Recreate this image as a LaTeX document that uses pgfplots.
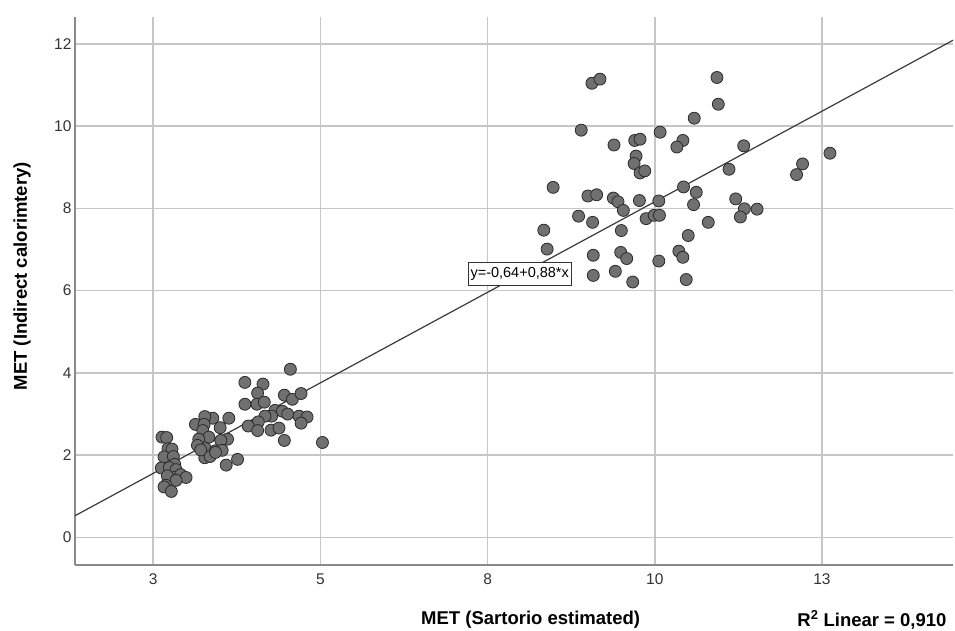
\documentclass[border=0pt]{standalone}
\usepackage{fontspec}
\setmainfont{Liberation Sans}
\usepackage{pgfplots}
\usepackage{pgfplotstable}
\pgfplotsset{compat=1.18}
\definecolor{gridgrey}{HTML}{C6C6C6}
\definecolor{axisgrey}{HTML}{8A8A8A}
\definecolor{dotfill}{HTML}{707070}
\definecolor{dotedge}{HTML}{2A2A2A}
\definecolor{fitline}{HTML}{3A3A3A}

% MET estimated (x) vs MET measured (y)
\pgfplotstableread{
x y
9.06 11.04
9.18 11.14
10.93 11.18
10.95 10.53
10.59 10.19
8.90 9.90
10.08 9.85
9.39 9.54
9.70 9.65
9.78 9.68
10.42 9.65
10.33 9.49
9.72 9.27
9.69 9.09
9.78 8.86
9.85 8.91
11.33 9.52
12.62 9.34
12.21 9.08
12.12 8.82
11.11 8.95
8.48 8.51
9.00 8.30
9.13 8.33
9.38 8.25
9.45 8.16
9.53 7.95
9.77 8.19
10.06 8.18
10.43 8.52
10.62 8.39
10.58 8.09
11.21 8.23
11.34 7.99
11.53 7.98
11.28 7.79
8.86 7.81
9.07 7.66
9.87 7.75
9.99 7.83
10.07 7.83
10.80 7.66
8.34 7.47
9.50 7.46
10.50 7.34
8.39 7.01
9.08 6.86
9.49 6.93
9.58 6.78
10.36 6.96
10.42 6.81
10.06 6.72
9.08 6.37
9.41 6.47
9.67 6.21
10.47 6.27
4.55 4.09
3.87 3.77
4.14 3.73
4.06 3.51
4.46 3.46
4.58 3.36
4.71 3.50
3.87 3.24
4.05 3.24
4.16 3.29
4.32 3.09
4.43 3.07
4.51 3.00
4.68 2.95
4.80 2.93
4.71 2.78
4.27 2.95
4.17 2.95
4.07 2.81
3.92 2.71
4.06 2.60
4.26 2.61
4.38 2.66
4.46 2.36
5.03 2.31
3.63 2.90
3.39 2.90
3.27 2.94
3.13 2.75
3.26 2.75
3.24 2.60
3.50 2.67
3.61 2.39
3.51 2.36
3.33 2.44
3.18 2.39
3.16 2.24
3.28 2.16
3.43 2.11
3.53 2.12
3.27 1.94
3.35 1.97
3.43 2.07
3.59 1.76
3.76 1.90
3.21 2.13
2.63 2.44
2.70 2.43
2.72 2.16
2.78 2.15
2.66 1.96
2.80 1.97
2.82 1.78
2.62 1.69
2.74 1.70
2.84 1.65
2.83 1.47
2.71 1.50
2.91 1.53
2.99 1.46
2.84 1.39
2.69 1.27
2.66 1.23
2.77 1.12
}\metdata

\begin{document}
\begin{tikzpicture}
\begin{axis}[
  at={(75bp,66bp)}, anchor=south west,
  scale only axis, width=878bp, height=548bp,
  xmin=1.329, xmax=14.46, ymin=-0.667, ymax=12.65,
  xtick={2.5,5,7.5,10,12.5}, xticklabels={3,5,8,10,13},
  ytick={0,2,4,6,8,10,12},
  grid=major, grid style={gridgrey, line width=1.6bp},
  axis x line*=bottom, axis y line*=left,
  axis line style={axisgrey, line width=1.6bp, -},
  major tick length=0pt,
  tick label style={font=\fontsize{15.5bp}{18bp}\selectfont, text=black!80},
  /pgf/number format/assume math mode=true,
  xticklabel style={yshift=-5bp},
  xlabel={MET (Sartorio estimated)}, ylabel={MET (Indirect calorimtery)},
  label style={font=\bfseries\fontsize{18.5bp}{22bp}\selectfont},
  xlabel style={at={(axis description cs:0.519,-0.1004)}, anchor=center},
  ylabel style={at={(axis description cs:-0.0604,0.527)}, anchor=center},
  clip=false,
]
\addplot[fitline, line width=1.2bp] coordinates {(1.329,0.530) (14.46,12.085)};
\addplot[only marks, mark=*, mark size=6bp,
  mark options={fill=dotfill, draw=dotedge, line width=0.8bp}] table {\metdata};
\node[draw=black!80, fill=white, line width=0.8bp, inner xsep=2.5bp, inner ysep=5bp,
  font=\fontsize{14.5bp}{16bp}\selectfont] at (axis cs:7.98,6.405) {y=-0,64+0,88*x};
\node[anchor=east, font=\bfseries\fontsize{18.5bp}{22bp}\selectfont]
  at (axis description cs:0.9966,-0.1004) {R\textsuperscript{2} Linear = 0,910};
\end{axis}
\pgfresetboundingbox
\path (0,0) rectangle (955bp,631bp);
\end{tikzpicture}
\end{document}
